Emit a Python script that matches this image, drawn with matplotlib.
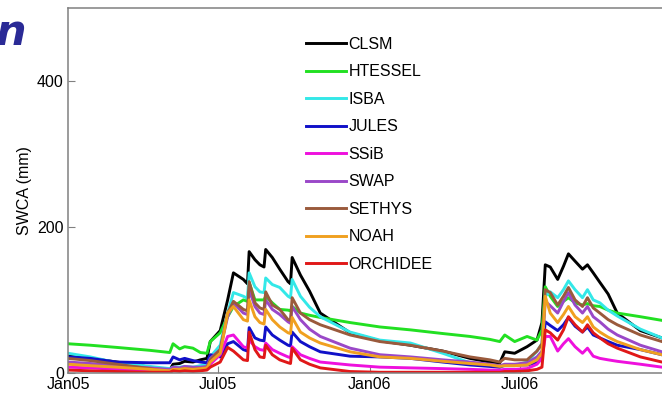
import matplotlib
matplotlib.use("Agg")
import matplotlib.pyplot as plt
import matplotlib.dates as mdates
import numpy as np

plt.rcParams['font.family'] = ['Liberation Sans', 'DejaVu Sans']

# sample dates shared by all models
dates = ["2005-01-01", "2005-01-28", "2005-03-01", "2005-04-10", "2005-05-04", "2005-05-08",
         "2005-05-16", "2005-05-22", "2005-06-01", "2005-06-10", "2005-06-18", "2005-06-22",
         "2005-07-04", "2005-07-13", "2005-07-20", "2005-08-01", "2005-08-06", "2005-08-08",
         "2005-08-15", "2005-08-21", "2005-08-26", "2005-08-28", "2005-09-05", "2005-09-14",
         "2005-09-24", "2005-09-27", "2005-09-29", "2005-10-09", "2005-10-20", "2005-11-02",
         "2005-12-08", "2006-01-13", "2006-02-19", "2006-03-30", "2006-05-02", "2006-05-26",
         "2006-06-07", "2006-06-13", "2006-06-25", "2006-07-10", "2006-07-22", "2006-07-28",
         "2006-08-01", "2006-08-07", "2006-08-16", "2006-08-23", "2006-08-29", "2006-09-06",
         "2006-09-15", "2006-09-21", "2006-09-28", "2006-10-06", "2006-10-16", "2006-10-27",
         "2006-11-24", "2006-12-20", "2006-12-31"]

# soil water content (mm)
clsm = [23, 20, 15, 8, 4, 12, 13, 16, 15, 18, 20, 43, 58, 100, 137, 128, 122, 166, 155, 148,
        145, 169, 158, 142, 125, 122, 158, 134, 112, 82, 55, 44, 38, 30, 20, 15, 14, 29, 27, 36,
        45, 69, 148, 145, 128, 146, 163, 153, 142, 148, 137, 124, 108, 82, 58, 48, 45]
htessel = [40, 38, 35, 31, 28, 40, 33, 36, 34, 28, 27, 43, 55, 77, 91, 100, 98, 124, 100, 100,
           100, 105, 96, 87, 86, 85, 91, 82, 79, 76, 69, 63, 59, 54, 50, 46, 43, 52, 43, 50,
           45, 59, 118, 105, 91, 98, 103, 96, 93, 95, 92, 91, 86, 82, 77, 72, 71]
isba = [27, 22, 14, 9, 6, 8, 8, 9, 8, 10, 12, 22, 38, 82, 110, 105, 102, 137, 118, 111,
        110, 130, 121, 117, 105, 103, 128, 105, 90, 77, 56, 45, 41, 27, 14, 10, 8, 10, 10, 15,
        30, 40, 105, 111, 103, 114, 126, 114, 103, 114, 100, 96, 86, 78, 60, 48, 45]
jules = [22, 20, 15, 14, 14, 22, 18, 20, 17, 15, 14, 25, 22, 40, 43, 32, 30, 62, 48, 45,
         44, 63, 52, 45, 38, 37, 56, 43, 36, 29, 23, 22, 20, 15, 11, 9, 8, 11, 11, 11,
         14, 22, 70, 65, 58, 66, 76, 64, 56, 63, 52, 48, 43, 38, 32, 25, 24]
ssib = [8, 7, 5, 4, 4, 6, 5, 6, 5, 6, 7, 12, 25, 50, 52, 36, 34, 45, 36, 32,
        31, 41, 32, 27, 22, 21, 36, 25, 20, 15, 11, 8, 7, 6, 5, 4, 4, 5, 5, 6,
        12, 20, 50, 50, 30, 40, 47, 36, 27, 34, 23, 20, 18, 16, 12, 8, 8]
swap = [15, 13, 10, 7, 5, 8, 7, 9, 8, 8, 9, 20, 32, 77, 96, 82, 80, 114, 91, 82,
        80, 100, 87, 80, 70, 68, 91, 73, 60, 50, 34, 25, 22, 18, 15, 12, 10, 12, 12, 14,
        22, 30, 98, 92, 82, 98, 110, 93, 82, 91, 77, 70, 60, 52, 38, 29, 27]
sethys = [20, 17, 12, 6, 1, 3, 4, 6, 5, 6, 7, 18, 32, 82, 98, 87, 85, 125, 96, 89,
          87, 111, 93, 87, 73, 72, 103, 82, 73, 66, 52, 43, 38, 30, 22, 18, 15, 20, 18, 18,
          30, 40, 114, 110, 93, 105, 117, 100, 91, 103, 89, 82, 73, 66, 52, 43, 41]
noah = [12, 10, 8, 5, 3, 5, 5, 6, 5, 6, 7, 15, 27, 82, 91, 73, 71, 100, 77, 69,
        67, 87, 73, 63, 55, 54, 76, 56, 48, 41, 29, 22, 20, 16, 13, 11, 9, 10, 10, 11,
        18, 27, 105, 82, 69, 80, 91, 77, 69, 77, 63, 56, 49, 43, 32, 25, 24]
orchidee = [4, 3, 2, 1, 1, 3, 2, 3, 2, 3, 4, 8, 15, 35, 30, 18, 17, 56, 32, 22,
            21, 38, 25, 18, 14, 13, 34, 18, 12, 7, 2, 1, 1, 1, 1, 1, 1, 2, 2, 3,
            5, 8, 59, 55, 45, 59, 77, 66, 56, 66, 55, 48, 40, 34, 22, 15, 14]

models = ["CLSM", "HTESSEL", "ISBA", "JULES", "SSiB", "SWAP", "SETHYS", "NOAH", "ORCHIDEE"]
series = [clsm, htessel, isba, jules, ssib, swap, sethys, noah, orchidee]
colors = ["#000000", "#22e022", "#33e8e8", "#1010c8", "#ee10dd",
          "#9a48c8", "#9a5a3c", "#f0a020", "#e01818"]

t = np.array(dates, dtype="datetime64[D]")

W, H = 662, 399
fig = plt.figure(figsize=(W / 100, H / 100), dpi=100)
ax = fig.add_axes([68 / W, 1 - 373 / H, (671 - 68) / W, (373 - 7.5) / H])

for name, vals, c in zip(models, series, colors):
    ax.plot(t, vals, color=c, lw=2.1, label=name)

ax.set_xlim(np.datetime64("2005-01-01"), np.datetime64("2006-12-31"))
ax.set_ylim(0, 500)
ax.set_yticks([0, 200, 400])
ax.set_xticks([np.datetime64(d) for d in ["2005-01-01", "2005-07-01", "2006-01-01", "2006-07-01"]])
ax.xaxis.set_major_formatter(mdates.DateFormatter("%b%y"))
ax.tick_params(direction="in", length=5, color="#808080", labelsize=11.5, pad=3)
for s in ax.spines.values():
    s.set_color("#808080")
    s.set_linewidth(1.1)
ax.set_ylabel("SWCA (mm)", fontsize=11.5, labelpad=4)

leg = ax.legend(loc="upper left", bbox_to_anchor=(306 / W, 1 - 37 / H),
                bbox_transform=fig.transFigure, frameon=False, fontsize=11.5,
                handlelength=2.5, handletextpad=0.15, labelspacing=0.78,
                borderpad=0, borderaxespad=0)

fig.text(26 / W, 1 - 45 / H, "n", ha="right", va="baseline", fontsize=31,
         fontweight="bold", fontstyle="italic", color="#2a2a96", family="DejaVu Sans")

fig.savefig("out.png", dpi=100)
